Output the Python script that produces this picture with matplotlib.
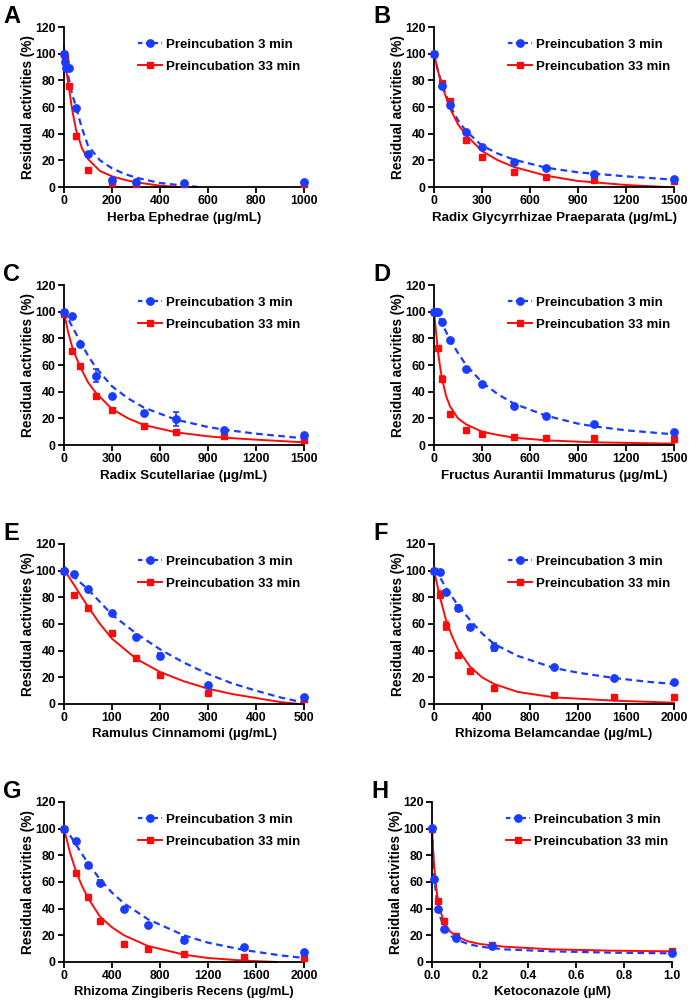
import matplotlib
matplotlib.use("Agg")
import matplotlib.pyplot as plt
from matplotlib.lines import Line2D

plt.rcParams['font.family'] = ['Liberation Sans', 'DejaVu Sans']
plt.rcParams['font.weight'] = 'bold'

BLUE = '#1a3cff'
RED = '#ff0a0a'

# ---- data ----
# A  Herba Ephedrae
a_x = [0, 5, 10, 20, 50, 100, 200, 300, 500, 1000]
a_blue = [100, 94, 89, 89.5, 59.5, 25, 5.5, 4, 3, 3.5]
a_red = [100, 97, 90, 76, 38, 13, 3, 2.5, 2.5, 2.5]
a_blue_fit_x = [0, 10, 20, 35, 50, 75, 100, 150, 200, 250, 300, 400, 500, 560]
a_blue_fit_y = [100, 90, 81, 69, 60, 44, 31, 20, 14, 10, 7, 3, 1, 0]
a_red_fit_x = [0, 5, 10, 20, 35, 50, 75, 100, 150, 200, 250, 300, 400, 480]
a_red_fit_y = [105, 95, 87, 75, 57, 43, 29, 21, 12, 8, 5.5, 3.5, 1, 0]

# B  Radix Glycyrrhizae Praeparata
b_x = [0, 50, 100, 200, 300, 500, 700, 1000, 1500]
b_blue = [100, 75.5, 61.5, 41.5, 30, 19, 14, 10, 6]
b_red = [100, 78, 64.5, 35, 22.5, 11, 7.5, 5.5, 4.5]
b_blue_fit_x = [0, 25, 50, 100, 150, 200, 300, 400, 500, 700, 900, 1000, 1200, 1500]
b_blue_fit_y = [100, 87, 77, 61, 50, 42, 31, 25, 20.5, 14.5, 11, 10, 8, 5.5]
b_red_fit_x = [0, 25, 50, 100, 150, 200, 300, 400, 500, 700, 900, 1000, 1200, 1450]
b_red_fit_y = [100, 87, 76, 59, 47, 39, 27, 20, 15, 8.5, 4.5, 3.5, 1.5, 0]

# C  Radix Scutellariae
c_x = [0, 50, 100, 200, 300, 500, 700, 1000, 1500]
c_blue = [100, 96.5, 75.5, 52, 36.5, 24, 19.5, 11.5, 7.5]
c_blue_err = [0, 0, 0, 5, 0, 1.5, 5, 0, 0]
c_red = [98, 70.5, 59, 36.5, 26.5, 14, 10, 6.5, 3.5]
c_blue_fit_x = [0, 50, 100, 150, 200, 300, 400, 500, 700, 900, 1000, 1200, 1500]
c_blue_fit_y = [101, 89, 78, 67, 58, 44, 35, 28, 19, 13.5, 11.5, 8.5, 5]
c_red_fit_x = [0, 25, 50, 75, 100, 150, 200, 300, 400, 500, 700, 900, 1000, 1200, 1500]
c_red_fit_y = [100, 85, 74, 66, 59, 47, 39, 27, 20, 15, 9.5, 6.5, 5.5, 4, 2]

# D  Fructus Aurantii Immaturus
d_x = [0, 10, 25, 50, 100, 200, 300, 500, 700, 1000, 1500]
d_blue = [100, 100, 100, 92.5, 78.5, 57, 45.5, 29, 22, 16, 10]
d_blue_err = [0, 0, 0, 2, 0, 0, 0, 0, 0, 0, 0]
d_red = [100, 100, 73, 49.5, 23, 11, 8, 6, 5, 5, 4.5]
d_red_err = [0, 0, 0, 2, 0, 0, 0, 0, 0, 0, 0]
d_blue_fit_x = [0, 25, 50, 100, 150, 200, 300, 400, 500, 700, 900, 1000, 1200, 1500]
d_blue_fit_y = [102, 97, 91, 79, 69, 60, 47, 38, 31, 22, 16, 14, 11, 8]
d_red_fit_x = [0, 10, 25, 40, 50, 75, 100, 150, 200, 300, 400, 500, 700, 1000, 1500]
d_red_fit_y = [100, 88, 70, 57, 50, 37, 29, 20, 15.5, 10, 7.5, 5.5, 3.5, 2, 1]

# E  Ramulus Cinnamomi
e_x = [0, 20, 50, 100, 150, 200, 300, 500]
e_blue = [100, 97.5, 86, 68, 50.5, 36, 14, 5]
e_blue_err = [0, 0, 0, 0, 0, 2, 0, 0]
e_red = [100, 82, 72, 53, 34.5, 21.5, 8, 4]
e_red_err = [0, 0, 0, 0, 0, 2, 0, 0]
e_blue_fit_x = [0, 25, 50, 100, 150, 200, 250, 300, 350, 400, 450, 500]
e_blue_fit_y = [103, 94, 86, 67, 53, 41, 31, 22.5, 15.5, 10, 5, 1]
e_red_fit_x = [0, 25, 50, 75, 100, 150, 200, 250, 300, 350, 400, 450, 490]
e_red_fit_y = [101, 87, 73, 60, 49, 34, 24, 17, 11.5, 7.5, 4.5, 1.5, 0]

# F  Rhizoma Belamcandae
f_x = [0, 50, 100, 200, 300, 500, 1000, 1500, 2000]
f_blue = [100, 99, 84, 72, 57.5, 43, 27.5, 19.5, 16.5]
f_blue_err = [0, 0, 1.5, 2, 2, 3, 0, 0, 0]
f_red = [100, 82, 58.5, 37, 24.5, 12, 7, 5.5, 5]
f_red_err = [0, 2.5, 3, 0, 0, 0, 0, 0, 0]
f_blue_fit_x = [0, 50, 100, 200, 300, 400, 500, 700, 1000, 1200, 1500, 1800, 2000]
f_blue_fit_y = [101, 95, 87, 74, 63, 53, 45, 36, 27, 23.5, 19.5, 16.5, 15]
f_red_fit_x = [0, 25, 50, 100, 150, 200, 300, 400, 500, 700, 1000, 1500, 2000]
f_red_fit_y = [100, 90, 80, 63, 51, 41, 28, 20, 15, 9, 5, 2.5, 1]

# G  Rhizoma Zingiberis Recens
g_x = [0, 100, 200, 300, 500, 700, 1000, 1500, 2000]
g_blue = [100, 90.5, 72.5, 59.5, 39.5, 28, 16.5, 11, 7.5]
g_blue_err = [0, 0, 2, 2, 0, 0, 2, 0, 0]
g_red = [100, 67, 48.5, 30.5, 13.5, 9.5, 6, 4, 3]
g_red_err = [0, 0, 2, 2, 0, 0, 0, 0, 0]
g_blue_fit_x = [0, 100, 200, 300, 400, 500, 700, 1000, 1200, 1500, 1800, 2000]
g_blue_fit_y = [102, 88, 74, 62, 52, 44, 32, 20, 14.5, 9, 5, 3]
g_red_fit_x = [0, 50, 100, 150, 200, 300, 400, 500, 700, 1000, 1200, 1500, 1780]
g_red_fit_y = [100, 82, 68, 57, 48, 34, 26, 20, 12, 5.5, 3, 1, 0]

# H  Ketoconazole
h_x = [0, 0.01, 0.025, 0.05, 0.1, 0.25, 1.0]
h_blue = [100.5, 62, 40, 25, 18, 12, 7]
h_red_x = [0, 0.025, 0.05, 0.1, 0.25, 1.0]
h_red = [100, 45.5, 30.5, 19.5, 13, 8]
h_blue_fit_x = [0, 0.005, 0.01, 0.02, 0.03, 0.05, 0.075, 0.1, 0.15, 0.2, 0.3, 0.5, 0.75, 1.0]
h_blue_fit_y = [100, 79, 63, 46, 36, 26, 20, 17, 13.5, 11.5, 9.5, 8, 7, 6.5]
h_red_fit_x = [0, 0.005, 0.01, 0.02, 0.03, 0.05, 0.075, 0.1, 0.15, 0.2, 0.3, 0.5, 0.75, 1.0]
h_red_fit_y = [100, 83, 70, 52, 41, 30, 23, 19.5, 15.5, 13.5, 11.5, 9.5, 8.5, 8]

panels = [
    dict(tag='A', pos=(64, 27), xlim=1000, xt=[0, 200, 400, 600, 800, 1000],
         xl='Herba Ephedrae (µg/mL)', xfs=9.6,
         bx=a_x, by=a_blue, be=None, rx=a_x, ry=a_red, re=None,
         bfx=a_blue_fit_x, bfy=a_blue_fit_y, rfx=a_red_fit_x, rfy=a_red_fit_y),
    dict(tag='B', pos=(434, 27), xlim=1500, xt=[0, 300, 600, 900, 1200, 1500],
         xl='Radix Glycyrrhizae Praeparata (µg/mL)', xfs=9.6,
         bx=b_x, by=b_blue, be=None, rx=b_x, ry=b_red, re=None,
         bfx=b_blue_fit_x, bfy=b_blue_fit_y, rfx=b_red_fit_x, rfy=b_red_fit_y),
    dict(tag='C', pos=(64, 285), xlim=1500, xt=[0, 300, 600, 900, 1200, 1500],
         xl='Radix Scutellariae (µg/mL)', xfs=9.6,
         bx=c_x, by=c_blue, be=c_blue_err, rx=c_x, ry=c_red, re=None,
         bfx=c_blue_fit_x, bfy=c_blue_fit_y, rfx=c_red_fit_x, rfy=c_red_fit_y),
    dict(tag='D', pos=(434, 285), xlim=1500, xt=[0, 300, 600, 900, 1200, 1500],
         xl='Fructus Aurantii Immaturus (µg/mL)', xfs=9.6,
         bx=d_x, by=d_blue, be=d_blue_err, rx=d_x, ry=d_red, re=d_red_err,
         bfx=d_blue_fit_x, bfy=d_blue_fit_y, rfx=d_red_fit_x, rfy=d_red_fit_y),
    dict(tag='E', pos=(64, 544), xlim=500, xt=[0, 100, 200, 300, 400, 500],
         xl='Ramulus Cinnamomi (µg/mL)', xfs=9.6,
         bx=e_x, by=e_blue, be=e_blue_err, rx=e_x, ry=e_red, re=e_red_err,
         bfx=e_blue_fit_x, bfy=e_blue_fit_y, rfx=e_red_fit_x, rfy=e_red_fit_y),
    dict(tag='F', pos=(434, 544), xlim=2000, xt=[0, 400, 800, 1200, 1600, 2000],
         xl='Rhizoma Belamcandae (µg/mL)', xfs=9.6,
         bx=f_x, by=f_blue, be=f_blue_err, rx=f_x, ry=f_red, re=f_red_err,
         bfx=f_blue_fit_x, bfy=f_blue_fit_y, rfx=f_red_fit_x, rfy=f_red_fit_y),
    dict(tag='G', pos=(64, 802), xlim=2000, xt=[0, 400, 800, 1200, 1600, 2000],
         xl='Rhizoma Zingiberis Recens (µg/mL)', xfs=9.4,
         bx=g_x, by=g_blue, be=g_blue_err, rx=g_x, ry=g_red, re=g_red_err,
         bfx=g_blue_fit_x, bfy=g_blue_fit_y, rfx=g_red_fit_x, rfy=g_red_fit_y),
    dict(tag='H', pos=(432, 802), xlim=1.0, xt=[0.0, 0.2, 0.4, 0.6, 0.8, 1.0],
         xl='Ketoconazole (µM)', xfs=9.5,
         bx=h_x, by=h_blue, be=None, rx=h_red_x, ry=h_red, re=None,
         bfx=h_blue_fit_x, bfy=h_blue_fit_y, rfx=h_red_fit_x, rfy=h_red_fit_y),
]

W, H = 689, 1000
fig = plt.figure(figsize=(W / 100, H / 100), dpi=100)

for p in panels:
    left, top = p['pos']
    ax = fig.add_axes([left / W, 1 - (top + 160) / H, 240 / W, 160 / H])

    ax.plot(p['bfx'], p['bfy'], color=BLUE, ls=(0, (3, 2)), lw=1.6, clip_on=False, zorder=2)
    ax.plot(p['rfx'], p['rfy'], color=RED, ls='-', lw=1.4, clip_on=False, zorder=2)
    ax.errorbar(p['bx'], p['by'], yerr=p['be'], fmt='o', color=BLUE, ms=5.3,
                elinewidth=1.2, capsize=2, capthick=1.2, clip_on=False, zorder=4)
    ax.errorbar(p['rx'], p['ry'], yerr=p['re'], fmt='s', color=RED, ms=5.0,
                elinewidth=1.2, capsize=2, capthick=1.2, clip_on=False, zorder=3)

    ax.set_xlim(0, p['xlim'])
    ax.set_ylim(0, 120)
    ax.set_xticks(p['xt'])
    if p['tag'] == 'H':
        ax.set_xticklabels(['%.1f' % v for v in p['xt']])
    ax.set_yticks([0, 20, 40, 60, 80, 100, 120])
    for s in ['top', 'right']:
        ax.spines[s].set_visible(False)
    for s in ['left', 'bottom']:
        ax.spines[s].set_linewidth(1.3)
    ax.tick_params(direction='out', length=4, width=1.3, labelsize=8.8, pad=2)
    for lab in ax.get_xticklabels() + ax.get_yticklabels():
        lab.set_fontweight('bold')
    ax.set_xlabel(p['xl'], fontsize=p['xfs'], fontweight='bold', labelpad=3)
    ax.set_ylabel('Residual activities (%)', fontsize=9.8, fontweight='bold', labelpad=0)

    handles = [
        Line2D([], [], color=BLUE, ls=(0, (2, 1.5)), lw=1.6, marker='o', ms=5.3),
        Line2D([], [], color=RED, ls='-', lw=1.4, marker='s', ms=5.0),
    ]
    ax.legend(handles, ['Preincubation 3 min', 'Preincubation 33 min'],
              loc='upper left', bbox_to_anchor=(0.26, 1.0), frameon=False,
              prop={'size': 9.5, 'weight': 'bold'}, handlelength=1.8,
              handletextpad=0.3, labelspacing=0.7)

    fig.text((left - 61) / W, 1 - (top - 22) / H, p['tag'],
             fontsize=17, fontweight='bold', va='top', ha='left')

fig.savefig('out.png', dpi=100)
